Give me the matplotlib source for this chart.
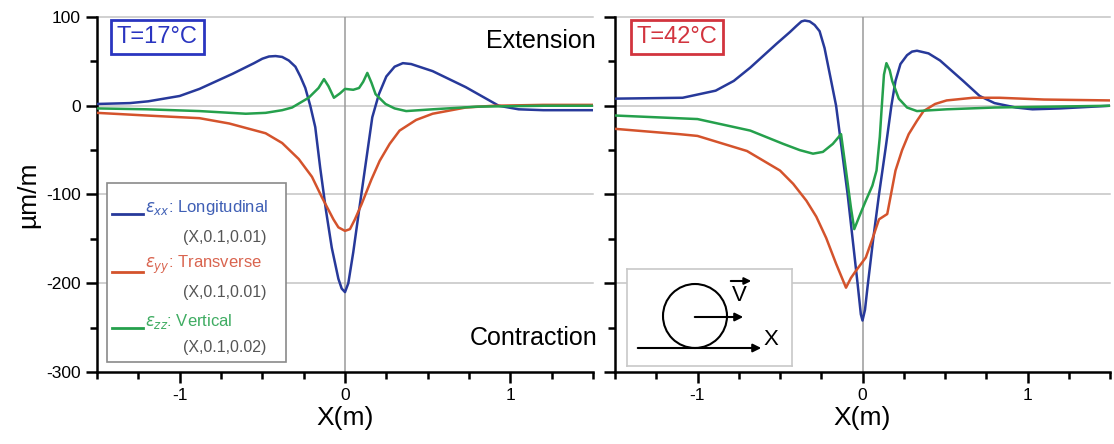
import matplotlib
matplotlib.use("Agg")
import matplotlib.pyplot as plt
from matplotlib.ticker import MultipleLocator
from matplotlib.patches import Rectangle, Circle

plt.rcParams['font.family'] = ['Liberation Sans', 'DejaVu Sans']
plt.rcParams['axes.unicode_minus'] = False

# strain curves, T=17°C
x17_xx = [-1.5, -1.3, -1.19, -1.0, -0.88, -0.68, -0.55, -0.5, -0.46, -0.42, -0.38, -0.34, -0.3,
          -0.27, -0.24, -0.21, -0.18, -0.15, -0.115, -0.08, -0.04, -0.02, 0.0, 0.02, 0.05, 0.085,
          0.12, 0.165, 0.205, 0.25, 0.3, 0.35, 0.4, 0.53, 0.73, 0.93, 1.05, 1.2, 1.5]
y17_xx = [2, 3, 5, 11, 19, 36, 48, 53, 55.5, 56, 55, 51, 44,
          33, 20, 0, -24, -70, -118, -160, -195, -206, -210, -200, -165, -118,
          -72, -13, 13, 33, 44, 48, 47, 39, 21, 0, -4, -5, -5]

x17_yy = [-1.5, -1.2, -0.88, -0.7, -0.58, -0.48, -0.38, -0.28, -0.2, -0.14, -0.07, -0.04, 0.0,
          0.03, 0.06, 0.1, 0.16, 0.21, 0.27, 0.33, 0.43, 0.53, 0.73, 0.9, 1.2, 1.5]
y17_yy = [-8, -11, -14, -20, -26, -31, -42, -60, -80, -103, -128, -137, -141,
          -139, -128, -111, -83, -62, -43, -28, -16, -9, -2, 0, 1, 1]

x17_zz = [-1.5, -1.2, -0.88, -0.6, -0.48, -0.38, -0.32, -0.22, -0.16, -0.127, -0.1, -0.067,
          -0.03, 0.0, 0.05, 0.085, 0.11, 0.135, 0.16, 0.185, 0.245, 0.3, 0.37, 0.53, 0.8, 1.2, 1.5]
y17_zz = [-3, -4, -6, -9, -8, -5, -2, 9, 20, 30, 22, 9,
          14, 19, 18, 20, 27, 37, 26, 13, 2, -3, -6, -4, -1, 0, 0]

# T=42°C
x42_xx = [-1.5, -1.09, -0.89, -0.78, -0.68, -0.52, -0.44, -0.4, -0.37, -0.35, -0.32, -0.29,
          -0.26, -0.23, -0.19, -0.16, -0.09, -0.06, -0.03, -0.01, 0.0, 0.015, 0.03, 0.065, 0.1,
          0.14, 0.175, 0.2, 0.23, 0.27, 0.3, 0.33, 0.4, 0.47, 0.61, 0.71, 0.8, 0.93, 1.03, 1.2, 1.5]
y42_xx = [8, 9, 17, 28, 43, 70, 83, 90, 95, 96, 95, 91,
          84, 65, 28, 0, -100, -150, -200, -235, -242, -230, -205, -150, -100,
          -48, 0, 28, 47, 57, 61, 62, 59, 51, 28, 11, 3, -2, -4, -3, 0]

x42_yy = [-1.5, -1.11, -1.0, -0.7, -0.5, -0.42, -0.34, -0.28, -0.22, -0.16, -0.1, -0.07, -0.04,
          0.02, 0.06, 0.1, 0.15, 0.2, 0.24, 0.28, 0.33, 0.37, 0.44, 0.51, 0.67, 0.83, 1.1, 1.5]
y42_yy = [-26, -32, -34, -51, -73, -88, -107, -125, -149, -178, -205, -194, -186,
          -171, -150, -128, -122, -73, -50, -32, -17, -6, 2, 6, 9, 9, 7, 6]

x42_zz = [-1.5, -1.0, -0.68, -0.48, -0.38, -0.3, -0.24, -0.18, -0.13, -0.1, -0.07, -0.05,
          -0.02, 0.02, 0.06, 0.085, 0.105, 0.115, 0.13, 0.145, 0.165, 0.18, 0.22, 0.27, 0.33,
          0.51, 0.8, 1.5]
y42_zz = [-11, -15, -28, -43, -50, -54, -52, -43, -32, -73, -115, -139,
          -125, -107, -90, -73, -35, -6, 35, 48, 40, 28, 8, -2, -6,
          -4, -2, 0]

c_xx = '#27399a'
c_yy = '#d4532c'
c_zz = '#25a04c'

fig = plt.figure(figsize=(11.14, 4.44), dpi=100)
ax1 = fig.add_axes([97/1114, 72/444, 496/1114, 355/444])
ax2 = fig.add_axes([615/1114, 72/444, 495/1114, 355/444])

panels = [(ax1, x17_xx, y17_xx, x17_yy, y17_yy, x17_zz, y17_zz),
          (ax2, x42_xx, y42_xx, x42_yy, y42_yy, x42_zz, y42_zz)]

for ax, xa, ya, xb, yb, xc, yc in panels:
    # grey reference lines
    for h in [100, 0, -100, -200]:
        ax.axhline(h, color='#c4c4c4', lw=1.1, zorder=1, clip_on=False)
    ax.axvline(0, color='#9a9a9a', lw=1.1, zorder=1)
    ax.plot(xa, ya, color=c_xx, lw=1.8, zorder=3)
    ax.plot(xb, yb, color=c_yy, lw=1.8, zorder=3)
    ax.plot(xc, yc, color=c_zz, lw=1.8, zorder=3)
    ax.set_xlim(-1.5, 1.5)
    ax.set_ylim(-300, 100)
    ax.set_xticks([-1, 0, 1])
    ax.set_yticks([-300, -200, -100, 0, 100])
    ax.xaxis.set_minor_locator(MultipleLocator(0.25))
    ax.yaxis.set_minor_locator(MultipleLocator(50))
    ax.tick_params(which='major', direction='out', length=8, width=1.8, labelsize=12.5)
    ax.tick_params(which='minor', direction='out', length=5, width=1.8)
    ax.spines['top'].set_visible(False)
    ax.spines['right'].set_visible(False)
    ax.spines['left'].set_linewidth(1.8)
    ax.spines['bottom'].set_linewidth(1.8)
    ax.set_xlabel('X(m)', fontsize=19, labelpad=2)

ax1.set_ylabel('µm/m', fontsize=19, labelpad=4)
ax2.set_yticklabels([])

# temperature boxes
ax1.text(0.04, 0.944, 'T=17°C', fontsize=17, color='#2a35c0', va='center', transform=ax1.transAxes,
         bbox=dict(boxstyle='square,pad=0.25', facecolor='white', edgecolor='#2a35c0', lw=2), zorder=6)
ax2.text(0.044, 0.944, 'T=42°C', fontsize=17, color='#d2343e', va='center', transform=ax2.transAxes,
         bbox=dict(boxstyle='square,pad=0.25', facecolor='white', edgecolor='#d2343e', lw=2), zorder=6)

# legend drawn by hand (two lines per entry, different colours)
ax1.add_patch(Rectangle((0.02, 0.028), 0.361, 0.504, transform=ax1.transAxes, facecolor='white',
                        edgecolor='#8a8a8a', lw=1.2, zorder=5))
entries = [(r'$\varepsilon_{xx}$: Longitudinal', '(X,0.1,0.01)', c_xx, '#3f5fb5', 0.462, 0.380),
           (r'$\varepsilon_{yy}$: Transverse', '(X,0.1,0.01)', c_yy, '#d9644f', 0.301, 0.225),
           (r'$\varepsilon_{zz}$: Vertical', '(X,0.1,0.02)', c_zz, '#3fac62', 0.141, 0.070)]
for lab, sub, lc, tc, yl, ys in entries:
    ax1.plot([0.030, 0.093], [yl - 0.018, yl - 0.018], color=lc, lw=2, transform=ax1.transAxes, zorder=6)
    ax1.text(0.097, yl, lab, color=tc, fontsize=12, va='center', transform=ax1.transAxes, zorder=6)
    ax1.text(0.173, ys, sub, color='#555555', fontsize=11.5, va='center', transform=ax1.transAxes, zorder=6)

fig.text(541/1114, 1 - 41/444, 'Extension', fontsize=18, ha='center', va='center')
fig.text(534/1114, 1 - 338/444, 'Contraction', fontsize=18, ha='center', va='center')

# little wheel sketch
ins = fig.add_axes([627/1114, 78/444, 165/1114, 97/444])
ins.set_xlim(0, 165)
ins.set_ylim(0, 97)
ins.set_xticks([])
ins.set_yticks([])
for s in ins.spines.values():
    s.set_color('#c8c8c8')
    s.set_linewidth(1.2)
ins.add_patch(Circle((68, 50), 32, fill=False, edgecolor='black', lw=1.5))
ins.annotate('', xy=(137, 18), xytext=(8, 18),
             arrowprops=dict(arrowstyle='-|>', color='black', lw=1.5, mutation_scale=12))
ins.annotate('', xy=(119, 49), xytext=(65, 49),
             arrowprops=dict(arrowstyle='-|>', color='black', lw=1.5, mutation_scale=12))
ins.annotate('', xy=(127, 85), xytext=(101, 85),
             arrowprops=dict(arrowstyle='-|>', color='black', lw=1.5, mutation_scale=10))
ins.text(112, 71, 'V', fontsize=16, ha='center', va='center')
ins.text(144, 27, 'X', fontsize=16, ha='center', va='center')

fig.savefig('out.png', dpi=100)
